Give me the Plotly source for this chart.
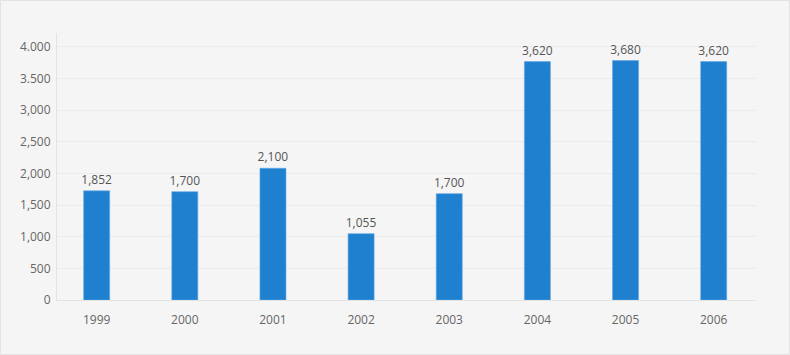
import plotly.graph_objects as go

years = ["1999", "2000", "2001", "2002", "2003", "2004", "2005", "2006"]
bar_values = [1725, 1712, 2082, 1048, 1681, 3768, 3784, 3768]
bar_labels = ["1,852", "1,700", "2,100", "1,055", "1,700", "3,620", "3,680", "3,620"]
y_tick_vals = [0, 500, 1000, 1500, 2000, 2500, 3000, 3500, 4000]
y_tick_text = ["0", "500", "1,000", "1,500", "2,000", "2,500", "3,000", "3.500", "4.000"]

W, H = 790, 355
L, R, T, B = 57, 34, 33, 55

fig = go.Figure(go.Bar(
    x=years, y=bar_values, text=bar_labels,
    textposition="outside", cliponaxis=False, constraintext="none",
    textfont=dict(size=12, color="#555555", family="Open Sans"),
    marker=dict(color="#2080d0", line=dict(color="#5ea6e6", width=0.6)),
    width=0.295,
))

pw, ph = W - L - R, H - T - B
fig.add_shape(type="rect", xref="paper", yref="paper",
              x0=-(L - 0.5) / pw, x1=1 + (R - 0.5) / pw,
              y0=-(B - 0.5) / ph, y1=1 + (T - 0.5) / ph,
              line=dict(color="#e3e3e3", width=1), layer="below")

fig.update_layout(
    width=W, height=H,
    margin=dict(l=L, r=R, t=T, b=B),
    paper_bgcolor="#f5f5f5", plot_bgcolor="#f5f5f5",
    font=dict(family="Open Sans", size=12, color="#666666"),
    showlegend=False,
)
fig.update_xaxes(
    type="category", range=[-0.45, 7.48],
    showline=True, linecolor="#e3e3e3", linewidth=1,
    showgrid=False, ticks="outside", ticklen=9, tickcolor="rgba(0,0,0,0)",
    tickfont=dict(size=12, color="#666666"),
)
fig.update_yaxes(
    range=[0, 4220], tickvals=y_tick_vals, ticktext=y_tick_text,
    showline=True, linecolor="#e3e3e3", linewidth=1,
    gridcolor="#ebebeb", gridwidth=1, zeroline=False,
    ticks="outside", ticklen=3, tickcolor="rgba(0,0,0,0)",
    tickfont=dict(size=12, color="#666666"),
)

fig.write_html(
    "out.html",
    config={"displayModeBar": False},
    post_script="document.body.style.margin='0';document.body.style.overflow='hidden';",
)
